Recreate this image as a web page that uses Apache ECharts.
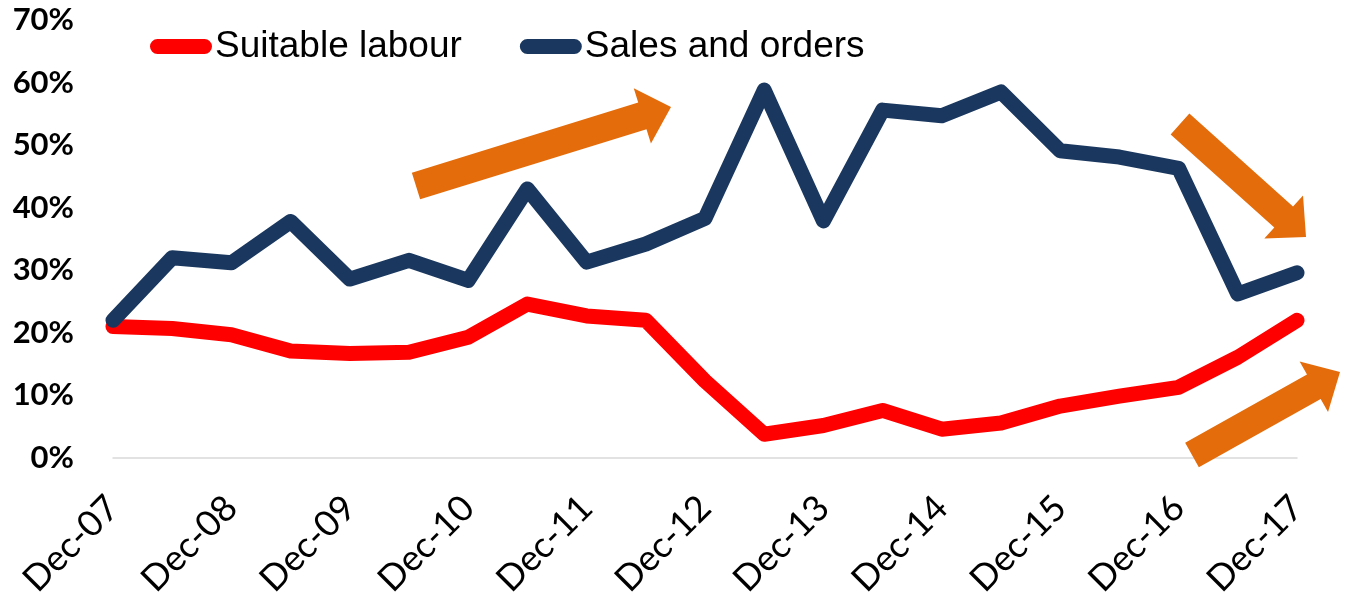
<!DOCTYPE html>
<html>
<head>
<meta charset="utf-8">
<script src="https://cdn.jsdelivr.net/npm/echarts@6/dist/echarts.min.js"></script>
<style>
  html, body { margin: 0; padding: 0; background: #fff; }
  #chart { width: 1345px; height: 599px; }
</style>
</head>
<body>
<div id="chart"></div>
<script>
// half-yearly survey points, Dec-07 .. Dec-17
const categories = [
  "Dec-07", "Jun-08", "Dec-08", "Jun-09", "Dec-09", "Jun-10", "Dec-10",
  "Jun-11", "Dec-11", "Jun-12", "Dec-12", "Jun-13", "Dec-13", "Jun-14",
  "Dec-14", "Jun-15", "Dec-15", "Jun-16", "Dec-16", "Jun-17", "Dec-17"
];
const suitableLabour = [
  21, 20.7, 19.7, 17.1, 16.7, 16.9, 19.3, 24.6, 22.7, 22, 12.3,
  3.8, 5.2, 7.6, 4.6, 5.6, 8.3, 9.9, 11.3, 16.1, 22
];
const salesOrders = [
  22, 32, 31.2, 37.8, 28.6, 31.6, 28.4, 43, 31.3, 34.2, 38.3,
  58.8, 37.9, 55.6, 54.7, 58.5, 49.1, 48.1, 46.3, 26.2, 29.6
];
const yTicks = [0, 10, 20, 30, 40, 50, 60, 70];

// orange trend arrows (annotation only): [tail, tip] in pixels
const arrows = [
  [[416, 186], [671, 107]],
  [[1180, 124], [1306, 237]],
  [[1192, 455], [1340, 372]]
];

const arrowPoints = (tail, tip, shaftW, headW, headL) => {
  const dx = tip[0] - tail[0], dy = tip[1] - tail[1];
  const len = Math.hypot(dx, dy);
  const ux = dx / len, uy = dy / len;
  const nx = -uy, ny = ux;
  const bx = tip[0] - ux * headL, by = tip[1] - uy * headL;
  return [
    [tail[0] + nx * shaftW / 2, tail[1] + ny * shaftW / 2],
    [bx + nx * shaftW / 2, by + ny * shaftW / 2],
    [bx + nx * headW / 2, by + ny * headW / 2],
    tip,
    [bx - nx * headW / 2, by - ny * headW / 2],
    [bx - nx * shaftW / 2, by - ny * shaftW / 2],
    [tail[0] - nx * shaftW / 2, tail[1] - ny * shaftW / 2]
  ];
};

const pill = "path://M7.5,0 H54.5 A7.5,7.5 0 0 1 54.5,15 H7.5 A7.5,7.5 0 0 1 7.5,0 Z";

const myChart = echarts.init(document.getElementById("chart"));
myChart.setOption({
  animation: false,
  backgroundColor: "#fff",
  legend: {
    left: 145,
    top: 23,
    itemWidth: 62,
    itemHeight: 15,
    itemGap: 58,
    textStyle: {
      fontFamily: "Liberation Sans",
      fontSize: 37,
      color: "#000",
      padding: [0, 0, 0, -2]
    },
    data: [
      { name: "Suitable labour", icon: pill },
      { name: "Sales and orders", icon: pill }
    ]
  },
  grid: {
    left: 113,
    right: 48,
    top: 20,
    bottom: 141,
    outerBoundsMode: "none"
  },
  xAxis: {
    type: "category",
    boundaryGap: false,
    data: categories,
    axisTick: { show: false },
    axisLine: { lineStyle: { color: "#d9d9d9", width: 1.5 } },
    axisLabel: {
      interval: 1,
      rotate: 45,
      margin: 44,
      fontFamily: "Lato",
      fontSize: 36,
      color: "#000"
    }
  },
  yAxis: {
    type: "value",
    min: yTicks[0],
    max: yTicks[yTicks.length - 1],
    interval: 10,
    axisLine: { show: false },
    axisTick: { show: false },
    splitLine: { show: false },
    axisLabel: {
      margin: 39,
      formatter: "{value}%",
      fontFamily: "Lato",
      fontWeight: "bold",
      fontSize: 31,
      color: "#000"
    }
  },
  series: [
    {
      name: "Suitable labour",
      type: "line",
      data: suitableLabour,
      symbol: "none",
      itemStyle: { color: "#ff0000" },
      lineStyle: { color: "#ff0000", width: 15, cap: "round", join: "round" }
    },
    {
      name: "Sales and orders",
      type: "line",
      data: salesOrders,
      symbol: "none",
      itemStyle: { color: "#1a385f" },
      lineStyle: { color: "#1a385f", width: 15, cap: "round", join: "round" }
    }
  ],
  graphic: arrows.map((a) => ({
    type: "polygon",
    z: 100,
    shape: { points: arrowPoints(a[0], a[1], 28, 58, 30) },
    style: { fill: "#e46c0a" }
  }))
});
</script>
</body>
</html>
